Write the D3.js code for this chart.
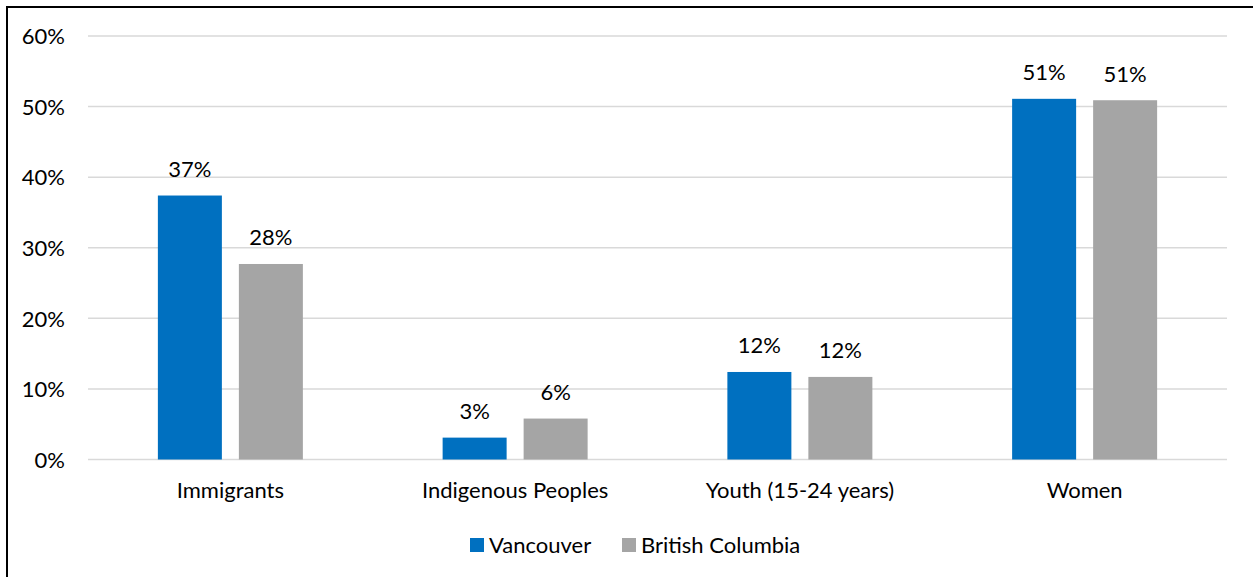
<!DOCTYPE html>
<html>
<head>
<meta charset="utf-8">
<script src="https://cdn.jsdelivr.net/npm/d3@7"></script>
<style>
  html, body { margin: 0; padding: 0; background: #fff; }
  svg { display: block; }
  text { font-family: Lato, "Open Sans", sans-serif; fill: #000; }
</style>
</head>
<body>
<svg id="chart" width="1253" height="577"></svg>
<script>
// Share of population by group
const categories = ["Immigrants", "Indigenous Peoples", "Youth (15-24 years)", "Women"];
const seriesNames = ["Vancouver", "British Columbia"];
const vancouver = [0.374, 0.031, 0.124, 0.511];
const britishColumbia = [0.277, 0.058, 0.117, 0.509];
const yTicks = [0, 0.1, 0.2, 0.3, 0.4, 0.5, 0.6];
const colors = ["#0070C0", "#A5A5A5"];

const seriesValues = [vancouver, britishColumbia];
const FONT = "22px";

const svg = d3.select("#chart");
const W = 1253, H = 577;
const margin = { top: 36, right: 26, bottom: 117, left: 88 };

// outer frame
svg.append("rect")
  .attr("x", 7).attr("y", 7)
  .attr("width", W + 10).attr("height", H + 10)
  .attr("fill", "none").attr("stroke", "#000").attr("stroke-width", 2);

const x0 = d3.scaleBand()
  .domain(categories)
  .range([margin.left, W - margin.right])
  .paddingInner(0).paddingOuter(0);

const y = d3.scaleLinear()
  .domain([0, 0.6])
  .range([H - margin.bottom - 0.5, margin.top]);

const barW = 64, barGap = 17;
const x1 = d3.scaleOrdinal()
  .domain(seriesNames)
  .range([-(barW + barGap / 2), barGap / 2]);

// gridlines
svg.append("g")
  .selectAll("line")
  .data(yTicks)
  .join("line")
  .attr("x1", margin.left).attr("x2", W - margin.right)
  .attr("y1", d => y(d)).attr("y2", d => y(d))
  .attr("stroke", "#D9D9D9").attr("stroke-width", 1.5);

// y axis labels
const yAxis = d3.axisLeft(y).tickValues(yTicks).tickFormat(d3.format(".0%")).tickSize(0).tickPadding(0);
const gy = svg.append("g")
  .attr("transform", `translate(${margin.left - 23},0)`)
  .call(yAxis);
gy.select(".domain").remove();
gy.selectAll("text")
  .style("font-family", "Lato, sans-serif")
  .style("font-size", FONT)
  .attr("fill", "#000")
  .attr("dy", "0.35em");

// x axis labels
const xAxis = d3.axisBottom(x0).tickSize(0).tickPadding(0);
const gx = svg.append("g")
  .attr("transform", `translate(0,${y(0) + 38.5})`)
  .call(xAxis);
gx.select(".domain").remove();
gx.selectAll("text")
  .style("font-family", "Lato, sans-serif")
  .style("font-size", FONT)
  .attr("fill", "#000")
  .attr("dy", "0");

// bars
const barData = [];
categories.forEach((c, i) => {
  seriesNames.forEach((s, j) => {
    barData.push({ cat: c, series: s, value: seriesValues[j][i], color: colors[j] });
  });
});

const cx = c => x0(c) + x0.bandwidth() / 2;

svg.append("g")
  .selectAll("rect")
  .data(barData)
  .join("rect")
  .attr("x", d => cx(d.cat) + x1(d.series))
  .attr("y", d => y(d.value))
  .attr("width", barW)
  .attr("height", d => y(0) - y(d.value))
  .attr("fill", d => d.color);

// value labels
svg.append("g")
  .selectAll("text")
  .data(barData)
  .join("text")
  .attr("x", d => cx(d.cat) + x1(d.series) + barW / 2)
  .attr("y", d => y(d.value) - 18.5)
  .attr("text-anchor", "middle")
  .style("font-size", FONT)
  .text(d => d3.format(".0%")(d.value));

// legend
const legend = svg.append("g").attr("transform", "translate(470,538)");
const legendX = [0, 152];
seriesNames.forEach((s, j) => {
  const g = legend.append("g").attr("transform", `translate(${legendX[j]},0)`);
  g.append("rect").attr("width", 14).attr("height", 14).attr("fill", colors[j]);
  g.append("text").attr("x", 19).attr("y", 15).style("font-size", FONT).text(s);
});
</script>
</body>
</html>
